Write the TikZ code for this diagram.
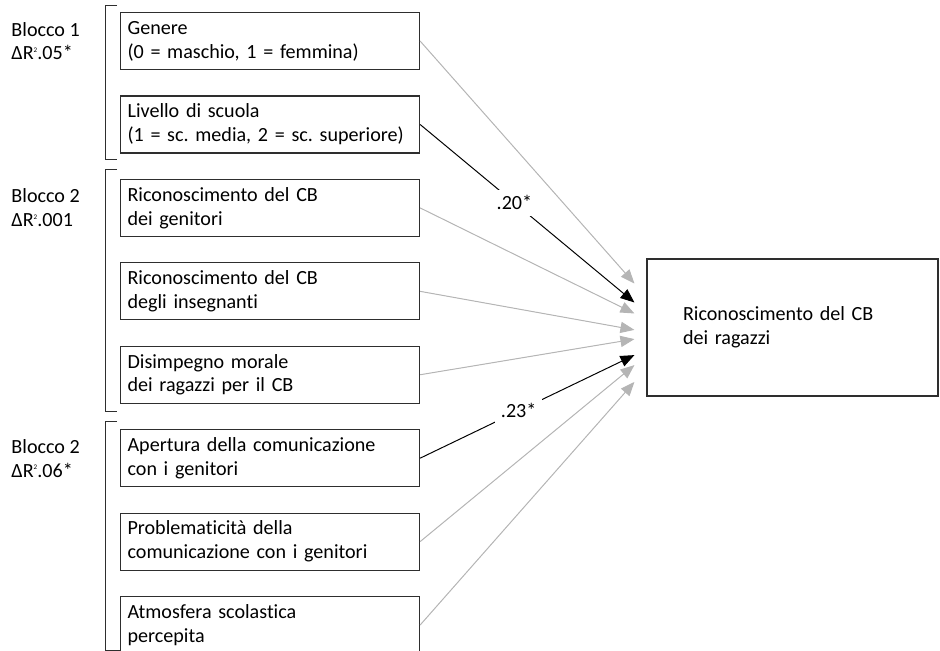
\documentclass[tikz,border=0pt]{standalone}
\usepackage{fontspec}
\setmainfont{Carlito}[Ligatures=NoCommon]
\frenchspacing
\usetikzlibrary{arrows.meta,positioning,calc}
\definecolor{frame}{HTML}{2E2E2E}
\definecolor{weakgray}{HTML}{B5B5B5}
\newcommand{\dRsq}{ΔR\raisebox{.75ex}{\fontsize{5}{5}\selectfont 2}}
\tikzset{
  predbox/.style={draw=frame, line width=.8pt, minimum width=7.475cm, minimum height=1.425cm,
    text width=7.125cm, inner xsep=.175cm, align=left, font=\fontsize{14.3}{17}\selectfont},
  outbox/.style={draw=frame, line width=.8pt, minimum width=7.275cm, minimum height=3.425cm,
    text width=5.475cm, inner xsep=.9cm, align=left, font=\fontsize{14.3}{17}\selectfont},
  blocklabel/.style={anchor=west, align=left, inner sep=0pt, font=\fontsize{14.3}{17}\selectfont},
  weak/.style={-{Triangle[length=3.5mm, width=2.8mm]}, draw=weakgray, fill=weakgray, line width=.7pt},
  strong/.style={-{Triangle[length=3.5mm, width=2.8mm]}, draw=black, line width=.7pt},
  coef/.style={fill=white, inner sep=4pt, font=\fontsize{14.3}{15}\selectfont},
  brace/.style={draw=frame, line width=.7pt}
}

\begin{document}
\begin{tikzpicture}[x=1cm,y=1cm, node distance=.6325cm]
  \useasboundingbox (0,0) rectangle (23.5,16.25);

  % predictors, left column
  \node[predbox, anchor=north west] (gen) at (3.0,15.95) {Genere\\(0 = maschio, 1 = femmina)};
  \node[predbox, below=of gen] (liv) {Livello di scuola\\(1 = sc. media, 2 = sc. superiore)};
  \node[predbox, below=of liv] (rgen) {Riconoscimento del CB\\dei genitori};
  \node[predbox, below=of rgen] (rins) {Riconoscimento del CB\\degli insegnanti};
  \node[predbox, below=of rins] (dis) {Disimpegno morale\\dei ragazzi per il CB};
  \node[predbox, below=of dis] (ape) {Apertura della comunicazione\\con i genitori};
  \node[predbox, below=of ape] (pro) {Problematicità della\\comunicazione con i genitori};
  \node[predbox, below=of pro] (atm) {Atmosfera scolastica\\percepita};

  % outcome
  \node[outbox] (rag) at (19.8125,8.0625) {Riconoscimento del CB\\dei ragazzi};

  % blocks
  \coordinate (lblx) at (.28,0);
  \node[blocklabel] (blk1) at (lblx |- gen) {Blocco 1\\\dRsq.05*};
  \node[blocklabel] (blk2) at (lblx |- rgen) {Blocco 2\\\dRsq.001};
  \node[blocklabel] (blk3) at (lblx |- ape) {Blocco 2\\\dRsq.06*};

  \draw[brace] ($(gen.north west)+(-.075,.175)$) -- ++(-.3,0) |- ($(liv.south west)+(-.075,-.15)$);
  \draw[brace] ($(rgen.north west)+(-.075,.225)$) -- ++(-.3,0) |- ($(dis.south west)+(-.075,-.2)$);
  \draw[brace] ($(ape.north west)+(-.075,.2)$) -- ++(-.3,0) |- (atm.west |- 0,0);

  % paths
  \draw[weak] (gen.east) -- ($(rag.west)+(-.3,1.1)$);
  \draw[strong] (liv.east) -- node[coef, pos=.44] {.20*} ($(rag.west)+(-.3,.625)$);
  \draw[weak] (rgen.east) -- ($(rag.west)+(-.3,.35)$);
  \draw[weak] (rins.east) -- ($(rag.west)+(-.3,-.06)$);
  \draw[weak] (dis.east) -- ($(rag.west)+(-.3,-.29)$);
  \draw[strong] (ape.east) -- node[coef, pos=.46] {.23*} ($(rag.west)+(-.3,-.69)$);
  \draw[weak] (pro.east) -- ($(rag.west)+(-.3,-.94)$);
  \draw[weak] (atm.east) -- ($(rag.west)+(-.3,-1.36)$);
\end{tikzpicture}
\end{document}
